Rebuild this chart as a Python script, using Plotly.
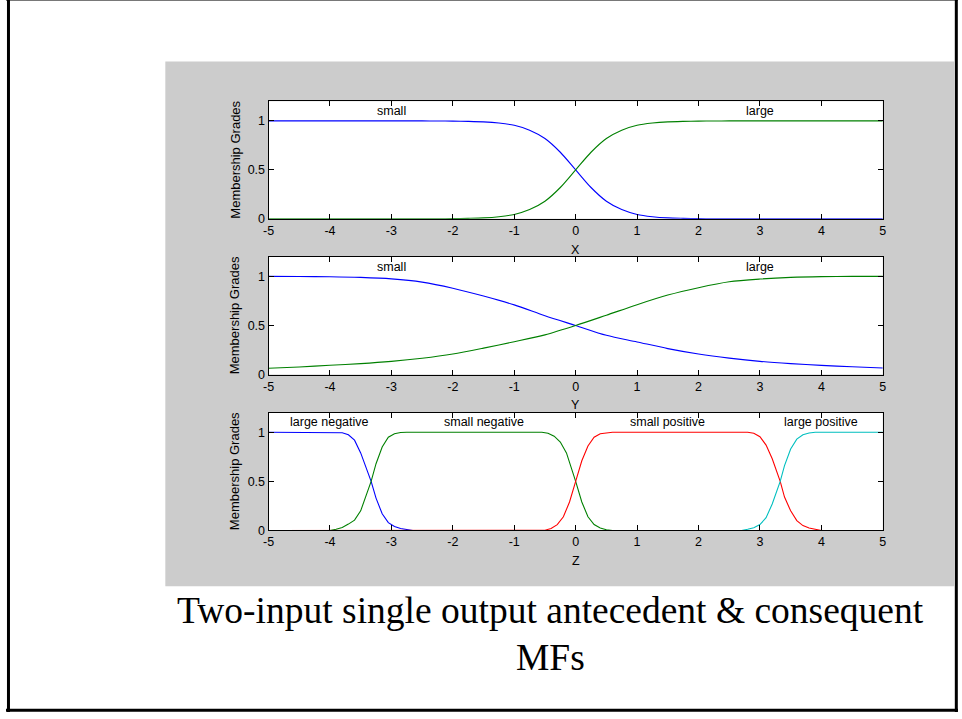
import plotly.graph_objects as go

W, H = 962, 719

# ---- membership function data ----
# input X: "small" / "large"
x_in = [-5.0, -4.75, -4.5, -4.25, -4.0, -3.75, -3.5, -3.25, -3.0, -2.75, -2.5,
        -2.25, -2.0, -1.75, -1.5, -1.25, -1.0, -0.75, -0.5, -0.25, 0.0,
        0.25, 0.5, 0.75, 1.0, 1.25, 1.5, 1.75, 2.0, 2.25, 2.5,
        2.75, 3.0, 3.25, 3.5, 3.75, 4.0, 4.25, 4.5, 4.75, 5.0]
x_small = [1, 1, 1, 1, 1, 1, 1, 1, 1, 1, 1,
           0.999, 0.998, 0.995, 0.99, 0.978, 0.955, 0.905, 0.82, 0.68, 0.5,
           0.32, 0.18, 0.095, 0.045, 0.022, 0.01, 0.005, 0.002, 0.001, 0,
           0, 0, 0, 0, 0, 0, 0, 0, 0, 0]
x_large = [0, 0, 0, 0, 0, 0, 0, 0, 0, 0, 0,
           0.001, 0.002, 0.005, 0.01, 0.022, 0.045, 0.095, 0.18, 0.32, 0.5,
           0.68, 0.82, 0.905, 0.955, 0.978, 0.99, 0.995, 0.998, 0.999, 1,
           1, 1, 1, 1, 1, 1, 1, 1, 1, 1]

# input Y: "small" / "large"
y_in = [-5.0, -4.5, -4.0, -3.5, -3.0, -2.5, -2.0, -1.5, -1.0, -0.5, 0.0,
        0.5, 1.0, 1.5, 2.0, 2.5, 3.0, 3.5, 4.0, 4.5, 5.0]
y_small = [1.0, 0.999, 0.997, 0.99, 0.975, 0.942, 0.88, 0.80, 0.71, 0.60, 0.5,
           0.40, 0.333, 0.265, 0.21, 0.168, 0.135, 0.112, 0.094, 0.08, 0.067]
y_large = [0.065, 0.078, 0.095, 0.112, 0.135, 0.167, 0.21, 0.27, 0.335, 0.405, 0.5,
           0.605, 0.712, 0.81, 0.885, 0.945, 0.973, 0.99, 0.998, 1.0, 1.0]

# output Z: four MFs, each with its own breakpoints
z_ln_x = [-5.0, -3.9, -3.8, -3.7, -3.6, -3.5, -3.4, -3.33, -3.25, -3.15,
          -3.05, -2.95, -2.85, -2.75, -2.65, 5.0]
z_ln = [1.0, 1.0, 0.995, 0.975, 0.92, 0.79, 0.62, 0.5, 0.33, 0.17,
        0.08, 0.04, 0.02, 0.008, 0.0, 0.0]

z_sn_x = [-5.0, -4.0, -3.9, -3.8, -3.7, -3.6, -3.5, -3.4, -3.33, -3.25, -3.15,
          -3.05, -2.95, -2.85, -2.75, -0.55, -0.45, -0.35, -0.25, -0.15, -0.05,
          0.0, 0.1, 0.2, 0.3, 0.4, 0.5, 0.6, 5.0]
z_sn = [0.0, 0.0, 0.012, 0.03, 0.065, 0.105, 0.2, 0.37, 0.5, 0.68, 0.85,
        0.95, 0.985, 0.997, 1.0, 1.0, 0.99, 0.96, 0.9, 0.79, 0.6,
        0.5, 0.29, 0.14, 0.06, 0.025, 0.008, 0.0, 0.0]

z_sp_x = [-5.0, -0.55, -0.5, -0.4, -0.3, -0.2, -0.1, 0.0, 0.1, 0.2, 0.3,
          0.4, 0.5, 0.6, 2.8, 2.9, 3.0, 3.1, 3.2, 3.33, 3.4, 3.5, 3.6,
          3.7, 3.8, 3.9, 4.0, 5.0]
z_sp = [0.0, 0.0, 0.003, 0.02, 0.06, 0.14, 0.29, 0.5, 0.71, 0.86, 0.95,
        0.985, 0.996, 1.0, 1.0, 0.99, 0.955, 0.87, 0.73, 0.5, 0.34, 0.2, 0.1,
        0.05, 0.025, 0.01, 0.0, 0.0]

z_lp_x = [-5.0, 2.7, 2.8, 2.9, 3.0, 3.1, 3.2, 3.33, 3.4, 3.5, 3.6, 3.7,
          3.8, 3.9, 5.0]
z_lp = [0.0, 0.0, 0.012, 0.028, 0.06, 0.13, 0.27, 0.5, 0.66, 0.83, 0.93,
        0.975, 0.992, 1.0, 1.0]

x_mf_names = ["small", "large"]
x_mf_pos = [-3, 3]
y_mf_names = ["small", "large"]
y_mf_pos = [-3, 3]
z_mf_names = ["large negative", "small negative", "small positive", "large positive"]
z_mf_pos = [-4, -1.5, 1.5, 4]

tick_vals = [-5, -4, -3, -2, -1, 0, 1, 2, 3, 4, 5]
grade_ticks = [0, 0.5, 1]
var_names = ["X", "Y", "Z"]
caption_lines = ["Two-input single output antecedent & consequent", "MFs"]

# ---- styling ----
BLUE = "#0000ff"
GREEN = "#008000"
RED = "#ff0000"
CYAN = "#00bfbf"
SANS = "Liberation Sans, Arial, sans-serif"
SERIF = "Liberation Serif, Times New Roman, serif"
SMALL = 12.5


def px_x(p):
    return p / W


def px_y(p):
    return 1 - p / H


# plot areas in page pixels: (top, bottom)
left_px, right_px = 265.3, 886.0
rows_px = [(102.3, 221.0), (259.3, 378.3), (416.7, 535.7)]

fig = go.Figure()

def add_line(xs, ys, color, idx, shape="linear"):
    sfx = "" if idx == 1 else str(idx)
    fig.add_trace(go.Scatter(
        x=xs, y=ys, mode="lines",
        line=dict(color=color, width=1.1, shape=shape, smoothing=0.8 if shape == "spline" else None),
        xaxis="x" + sfx, yaxis="y" + sfx, hoverinfo="skip", showlegend=False))

add_line(x_in, x_small, BLUE, 1, "spline")
add_line(x_in, x_large, GREEN, 1, "spline")
add_line(y_in, y_small, BLUE, 2, "spline")
add_line(y_in, y_large, GREEN, 2, "spline")
add_line(z_ln_x, z_ln, BLUE, 3)
add_line(z_sn_x, z_sn, GREEN, 3)
add_line(z_sp_x, z_sp, RED, 3)
add_line(z_lp_x, z_lp, CYAN, 3)

axis_common = dict(
    showline=True, linecolor="black", linewidth=1, mirror="ticks",
    ticks="inside", ticklen=5, tickwidth=1, tickcolor="black",
    showgrid=False, zeroline=False,
    tickfont=dict(family=SANS, size=SMALL, color="black"),
)

layout = dict(
    width=W, height=H,
    margin=dict(l=0, r=0, t=0, b=0),
    paper_bgcolor="white", plot_bgcolor="white",
    showlegend=False,
)

annotations = []
for i, (top, bot) in enumerate(rows_px, start=1):
    sfx = "" if i == 1 else str(i)
    layout["xaxis" + sfx] = dict(
        axis_common, domain=[px_x(left_px), px_x(right_px)], range=[-5, 5],
        tickvals=tick_vals, ticktext=[str(v) for v in tick_vals],
        anchor="y" + sfx, fixedrange=True)
    layout["yaxis" + sfx] = dict(
        axis_common, domain=[px_y(bot), px_y(top)], range=[0, 1.2],
        tickvals=grade_ticks, ticktext=["0", "0.5", "1"],
        anchor="x" + sfx, fixedrange=True)
    # y-axis title
    annotations.append(dict(
        text="Membership Grades", xref="paper", yref="paper",
        x=px_x(231), y=px_y((top + bot) / 2), textangle=-90,
        showarrow=False, xanchor="center", yanchor="middle",
        font=dict(family=SANS, size=13, color="black")))
    # x-axis variable name
    annotations.append(dict(
        text=var_names[i - 1], xref="x" + sfx, yref="paper",
        x=0, y=px_y(bot + 31), showarrow=False,
        xanchor="center", yanchor="middle",
        font=dict(family=SANS, size=SMALL, color="black")))

for names, pos, sfx in [(x_mf_names, x_mf_pos, ""), (y_mf_names, y_mf_pos, "2"),
                        (z_mf_names, z_mf_pos, "3")]:
    for n, p in zip(names, pos):
        annotations.append(dict(
            text=n, xref="x" + sfx, yref="y" + sfx, x=p, y=1.1,
            showarrow=False, xanchor="center", yanchor="middle",
            font=dict(family=SANS, size=SMALL, color="black")))

# caption under the figure panel
for line, cy in zip(caption_lines, [616, 664]):
    annotations.append(dict(
        text=line, xref="paper", yref="paper", x=px_x(550), y=px_y(cy),
        showarrow=False, xanchor="center", yanchor="middle",
        font=dict(family=SERIF, size=37.5, color="black")))

layout["annotations"] = annotations

shapes = [
    # gray panel behind the three axes
    dict(type="rect", xref="paper", yref="paper", x0=px_x(161), x1=px_x(958),
         y0=px_y(592), y1=px_y(62), fillcolor="#cccccc", line=dict(width=0), layer="below"),
    # page frame
    dict(type="line", xref="paper", yref="paper", x0=px_x(0), x1=px_x(W),
         y0=px_y(0.5), y1=px_y(0.5), line=dict(color="#777777", width=1)),
    dict(type="line", xref="paper", yref="paper", x0=px_x(2.5), x1=px_x(2.5),
         y0=px_y(0), y1=px_y(H), line=dict(color="black", width=3)),
    dict(type="line", xref="paper", yref="paper", x0=px_x(960.3), x1=px_x(960.3),
         y0=px_y(0), y1=px_y(H), line=dict(color="black", width=3)),
    dict(type="line", xref="paper", yref="paper", x0=px_x(0), x1=px_x(W),
         y0=px_y(717.3), y1=px_y(717.3), line=dict(color="black", width=3)),
]
# white plotting areas above the gray panel
for i in range(1, 4):
    sfx = "" if i == 1 else str(i)
    shapes.append(dict(type="rect", xref="x" + sfx + " domain", yref="y" + sfx + " domain",
                       x0=0, x1=1, y0=0, y1=1, fillcolor="white",
                       line=dict(width=0), layer="below"))
layout["shapes"] = shapes

fig.update_layout(**layout)
fig.write_html("out.html")
